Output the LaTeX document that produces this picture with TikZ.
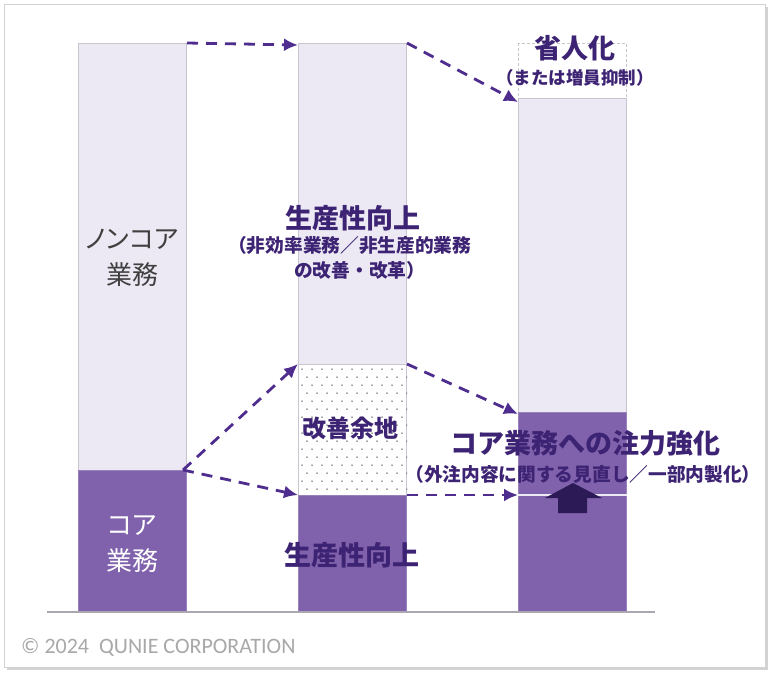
\documentclass[tikz,border=0pt]{standalone}
\usepackage{fontspec}
\setmainfont{Noto Sans CJK JP}
\newfontfamily\propjp{Noto Sans CJK JP}[Script=Kana, RawFeature=+palt]
\newfontfamily\copyfont{Carlito}
\usepackage{tikz}
\usetikzlibrary{arrows.meta,positioning,shadows}

\definecolor{lavfill}{HTML}{ECE9F4}
\definecolor{barline}{HTML}{C9C5CF}
\definecolor{corefill}{HTML}{8061AB}
\definecolor{arrowc}{HTML}{4F2D8F}
\definecolor{titlec}{HTML}{3D2373}
\definecolor{upc}{HTML}{2B1A55}
\definecolor{copyc}{HTML}{A8A8A8}
\definecolor{framec}{HTML}{D2D2D2}
\definecolor{basec}{HTML}{ABA7B0}

\newcommand{\ttlfont}{\fontsize{27}{30}\selectfont\bfseries}
\newcommand{\subfont}{\fontsize{18.7}{25}\selectfont\bfseries}
\newcommand{\barfont}{\propjp\fontsize{26}{36}\selectfont}

\begin{document}
\begin{tikzpicture}[x=1pt, y=-1pt, >={Latex[length=14pt,width=13pt]}]
	\tikzstyle{seg} = [draw=barline, line width=1pt, fill=lavfill, inner sep=0pt, anchor=north west, minimum width=108pt]
	\tikzstyle{core} = [seg, fill=corefill, draw=corefill!80!white]
	\tikzstyle{flow} = [->, arrowc, line width=2.8pt, dash pattern=on 11pt off 8pt]
	\tikzstyle{ttl} = [text=titlec, font=\ttlfont, inner sep=0pt]
	\tikzstyle{sub} = [text=titlec, font=\subfont, align=center, inner sep=0pt]

	\useasboundingbox (0,0) rectangle (780,681);
	\draw [framec, fill=white, drop shadow={shadow xshift=3pt, shadow yshift=-3pt, opacity=0.35}] (4,4) rectangle (765,667);

	% bar 1
	\node [seg, minimum height=427pt] (nc_1) at (78,43)  {};
	\node [core, minimum height=142pt] (co_1) at (78,470) {};
	% bar 2
	\node [seg, minimum height=321pt] (nc_2) at (298,43)  {};
	\node [seg, fill=white, minimum height=131pt] (sl_2) at (298,364) {};
	\node [core, minimum height=117pt] (co_2) at (298,495) {};
	% bar 3
	\node [seg, fill=none, dashed, dash pattern=on 3pt off 2pt, minimum height=55pt] (sv_3) at (518,43) {};
	\node [seg, minimum height=314pt] (nc_3) at (518,98)  {};
	\node [core, minimum height=83pt] (bo_3) at (518,412) {};
	\node [core, minimum height=117pt] (co_3) at (518,495) {};
	\draw [lavfill, line width=2pt] (co_3.north west) -- (co_3.north east);

	% dots of the slack
	\begin{scope}
		\clip (sl_2.north west) rectangle (sl_2.south east);
		\foreach \r in {0,...,15}
			\foreach \c in {0,...,11}
				\fill [black!75] ({302+10*\c+5*mod(\r,2)}, {369+8*\r}) circle (0.75pt);
	\end{scope}

	\draw [basec, line width=1.5pt] (47,612) -- (655,612);

	% flows
	\draw [flow] (nc_1.north east) -- ([yshift=-2pt]nc_2.north west);
	\draw [flow] (nc_2.north east) -- ([yshift=-4pt]nc_3.north west);
	\draw [flow] ([xshift=-4pt]co_1.north east) -- (sl_2.north west);
	\draw [flow] ([xshift=-4pt]co_1.north east) -- (co_2.north west);
	\draw [flow] (sl_2.north east) -- ([yshift=-2pt]bo_3.north west);
	\draw [flow] (co_2.north east) -- (co_3.north west);

	\fill [upc] (558,513) -- (558,498) -- (545,498) -- (573,483) -- (602,498) -- (587,498) -- (587,513) -- cycle;

	% labels
	\node [text=black!75, font=\barfont, align=center] (t_nc) at (132,258) {ノンコア\\業務};
	\node [text=white, font=\barfont, align=center] (t_co) at (132,544) {コア\\業務};
	\node [ttl] (t_pr1) at (353,218) {生産性向上};
	\node [sub, align=left, anchor=west] (t_pr1s) at (228,258) {（非効率業務／非生産的業務\\\hspace*{66pt}の改善・改革）};
	\node [ttl, font=\fontsize{24}{28}\selectfont\bfseries] (t_sl) at (350,428) {改善余地};
	\node [ttl] (t_pr2) at (352,555) {生産性向上};
	\node [ttl] (t_sv) at (575,48) {省人化};
	\node [sub, font=\fontsize{17.5}{22}\selectfont\bfseries] (t_svs) at (575,78) {（または増員抑制）};
	\node [ttl] (t_fc) at (585,443) {コア業務への注力強化};
	\node [sub] (t_fcs) at (583,474) {（外注内容に関する見直し／一部内製化）};
	\node [text=copyc, font=\copyfont\fontsize{22}{26}\selectfont, anchor=west, inner sep=0pt] (t_cp) at (21,647) {© 2024\ \ QUNIE CORPORATION};
\end{tikzpicture}
\end{document}
